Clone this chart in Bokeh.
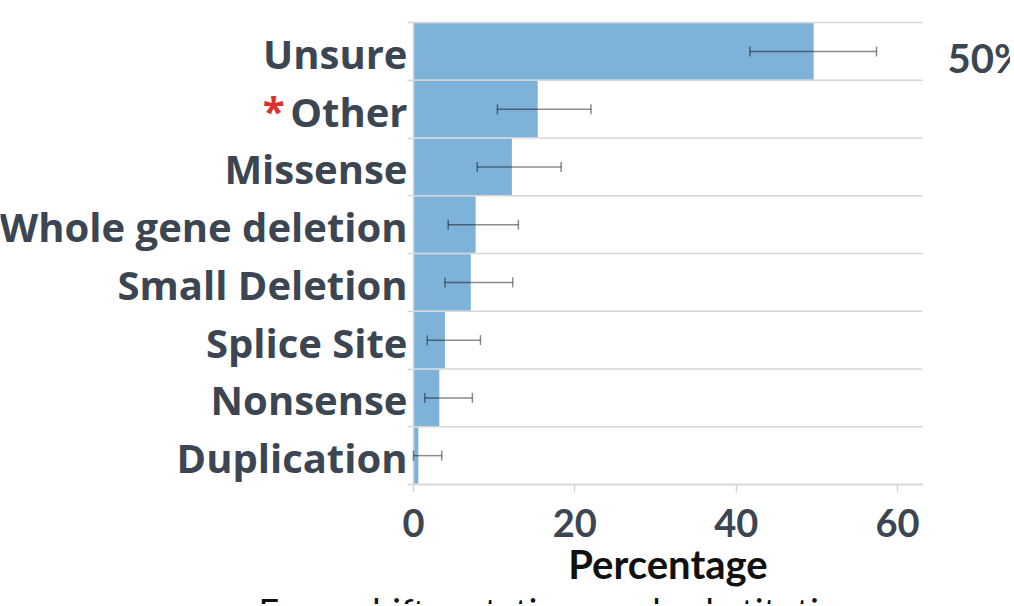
from bokeh.plotting import figure
from bokeh.models import (ColumnDataSource, Range1d, FixedTicker, Whisker, TeeHead, Label)
from bokeh.embed import file_html
from bokeh.resources import INLINE

# ---- data (top to bottom) ----
categories = ["Unsure", "Other", "Missense", "Whole gene deletion",
              "Small Deletion", "Splice Site", "Nonsense", "Duplication"]
percentages = [49.6, 15.4, 12.2, 7.7, 7.1, 3.9, 3.2, 0.6]
ci_lower = [41.7, 10.4, 7.9, 4.3, 3.9, 1.7, 1.4, 0.0]
ci_upper = [57.4, 22.0, 18.3, 13.0, 12.3, 8.3, 7.3, 3.5]
x_ticks = [0, 20, 40, 60]
x_domain_max = 63.1
starred = "Other"
caption = "Frameshift mutations and substitutions were among the"

n = len(categories)
ypos = [n - 1 - i + 0.5 for i in range(n)]
bounds = list(range(n + 1))

SLATE = "#3b4652"
GRID = "#d6d6d6"

W, H = 1010, 604
PX_PER_X = 8.067      # pixels per percentage unit
X0_PX = 413           # pixel position of x = 0
BAND_PX = 57.75       # pixels per category band
TOP_PX = 22           # pixel position of the top band edge
LABEL_DROP_PX = 2     # labels sit slightly below band centres
x_start = -X0_PX / PX_PER_X
x_end = (W - X0_PX) / PX_PER_X
y_end = n + TOP_PX / BAND_PX
y_start = -(H - (TOP_PX + n * BAND_PX)) / BAND_PX

label_ticks = [y - LABEL_DROP_PX / BAND_PX for y in ypos]
label_map = {float(t): c for t, c in zip(label_ticks, categories)}

src = ColumnDataSource(dict(y=ypos, cat=categories, pct=percentages,
                            lo=ci_lower, hi=ci_upper))
grid_src = ColumnDataSource(dict(y=bounds, x0=[0] * len(bounds),
                                 x1=[x_domain_max] * len(bounds)))

p = figure(width=W, height=H, output_backend="svg", toolbar_location=None,
           x_range=Range1d(x_start, x_end), y_range=Range1d(y_start, y_end),
           min_border=0)
p.outline_line_color = None
p.background_fill_color = "white"
p.border_fill_color = "white"
p.xgrid.grid_line_color = None
p.ygrid.grid_line_color = None

# band boundary grid lines over the data domain
p.segment(x0="x0", x1="x1", y0="y", y1="y", source=grid_src,
          line_color=GRID, line_width=1.5)

p.hbar(y="y", right="pct", left=0, height=0.97, source=src,
       fill_color="#7fb2d8", line_color=None)

head_kw = dict(size=10, line_color="black", line_alpha=0.45, line_width=1.5)
w = Whisker(source=src, base="y", lower="lo", upper="hi", dimension="width",
            line_color="black", line_alpha=0.45, line_width=1.5, level="overlay",
            lower_head=TeeHead(**head_kw), upper_head=TeeHead(**head_kw))
p.add_layout(w)

# y axis pinned at x = 0
ya = p.yaxis[0]
ya.fixed_location = 0
ya.bounds = (0, n)
ya.ticker = FixedTicker(ticks=label_ticks, minor_ticks=bounds)
ya.major_label_overrides = label_map
ya.major_tick_out = 0
ya.major_tick_in = 0
ya.minor_tick_out = 6
ya.minor_tick_in = 0
ya.minor_tick_line_color = GRID
ya.minor_tick_line_width = 1.5
ya.axis_line_color = GRID
ya.axis_line_width = 1.5
ya.major_label_text_font = "Open Sans"
ya.major_label_text_font_style = "bold"
ya.major_label_text_font_size = "40px"
ya.major_label_text_color = SLATE
ya.major_label_standoff = 0

# x axis pinned at the bottom band edge
xa = p.xaxis[0]
xa.fixed_location = 0
xa.bounds = (0, x_domain_max)
xa.ticker = FixedTicker(ticks=x_ticks, minor_ticks=[])
xa.axis_line_color = GRID
xa.axis_line_width = 1.5
xa.major_tick_line_color = GRID
xa.major_tick_line_width = 1.5
xa.major_tick_out = 8
xa.major_tick_in = 0
xa.minor_tick_line_color = None
xa.major_label_text_font = "Lato"
xa.major_label_text_font_style = "bold"
xa.major_label_text_font_size = "38px"
xa.major_label_text_color = SLATE
xa.major_label_standoff = 16
xa.axis_label = "Percentage"
xa.axis_label_text_font = "Lato"
xa.axis_label_text_font_style = "bold"
xa.axis_label_text_font_size = "40px"
xa.axis_label_text_color = "#111111"
xa.axis_label_standoff = 0

# red asterisk beside the starred category
p.add_layout(Label(x=0, y=ypos[categories.index(starred)], x_offset=-129, y_offset=-1,
                   text="*", text_font="Open Sans", text_font_style="bold",
                   text_font_size="40px", text_color="#e0302d",
                   text_align="right", text_baseline="middle"))

# value annotation for the top category
p.add_layout(Label(x=x_domain_max, y=ypos[0], x_offset=25, y_offset=-7,
                   text=f"{round(percentages[0])}%",
                   text_font="Lato", text_font_style="bold",
                   text_font_size="40px", text_color=SLATE,
                   text_align="left", text_baseline="middle"))

# caption, partly below the visible area as in the original
p.add_layout(Label(x=0, y=0, x_offset=-155, y_offset=-104, text=caption,
                   text_font="Lato", text_font_size="36px", text_color="#111111",
                   text_align="left", text_baseline="top"))

open("out.html", "w").write(file_html(p, INLINE))
